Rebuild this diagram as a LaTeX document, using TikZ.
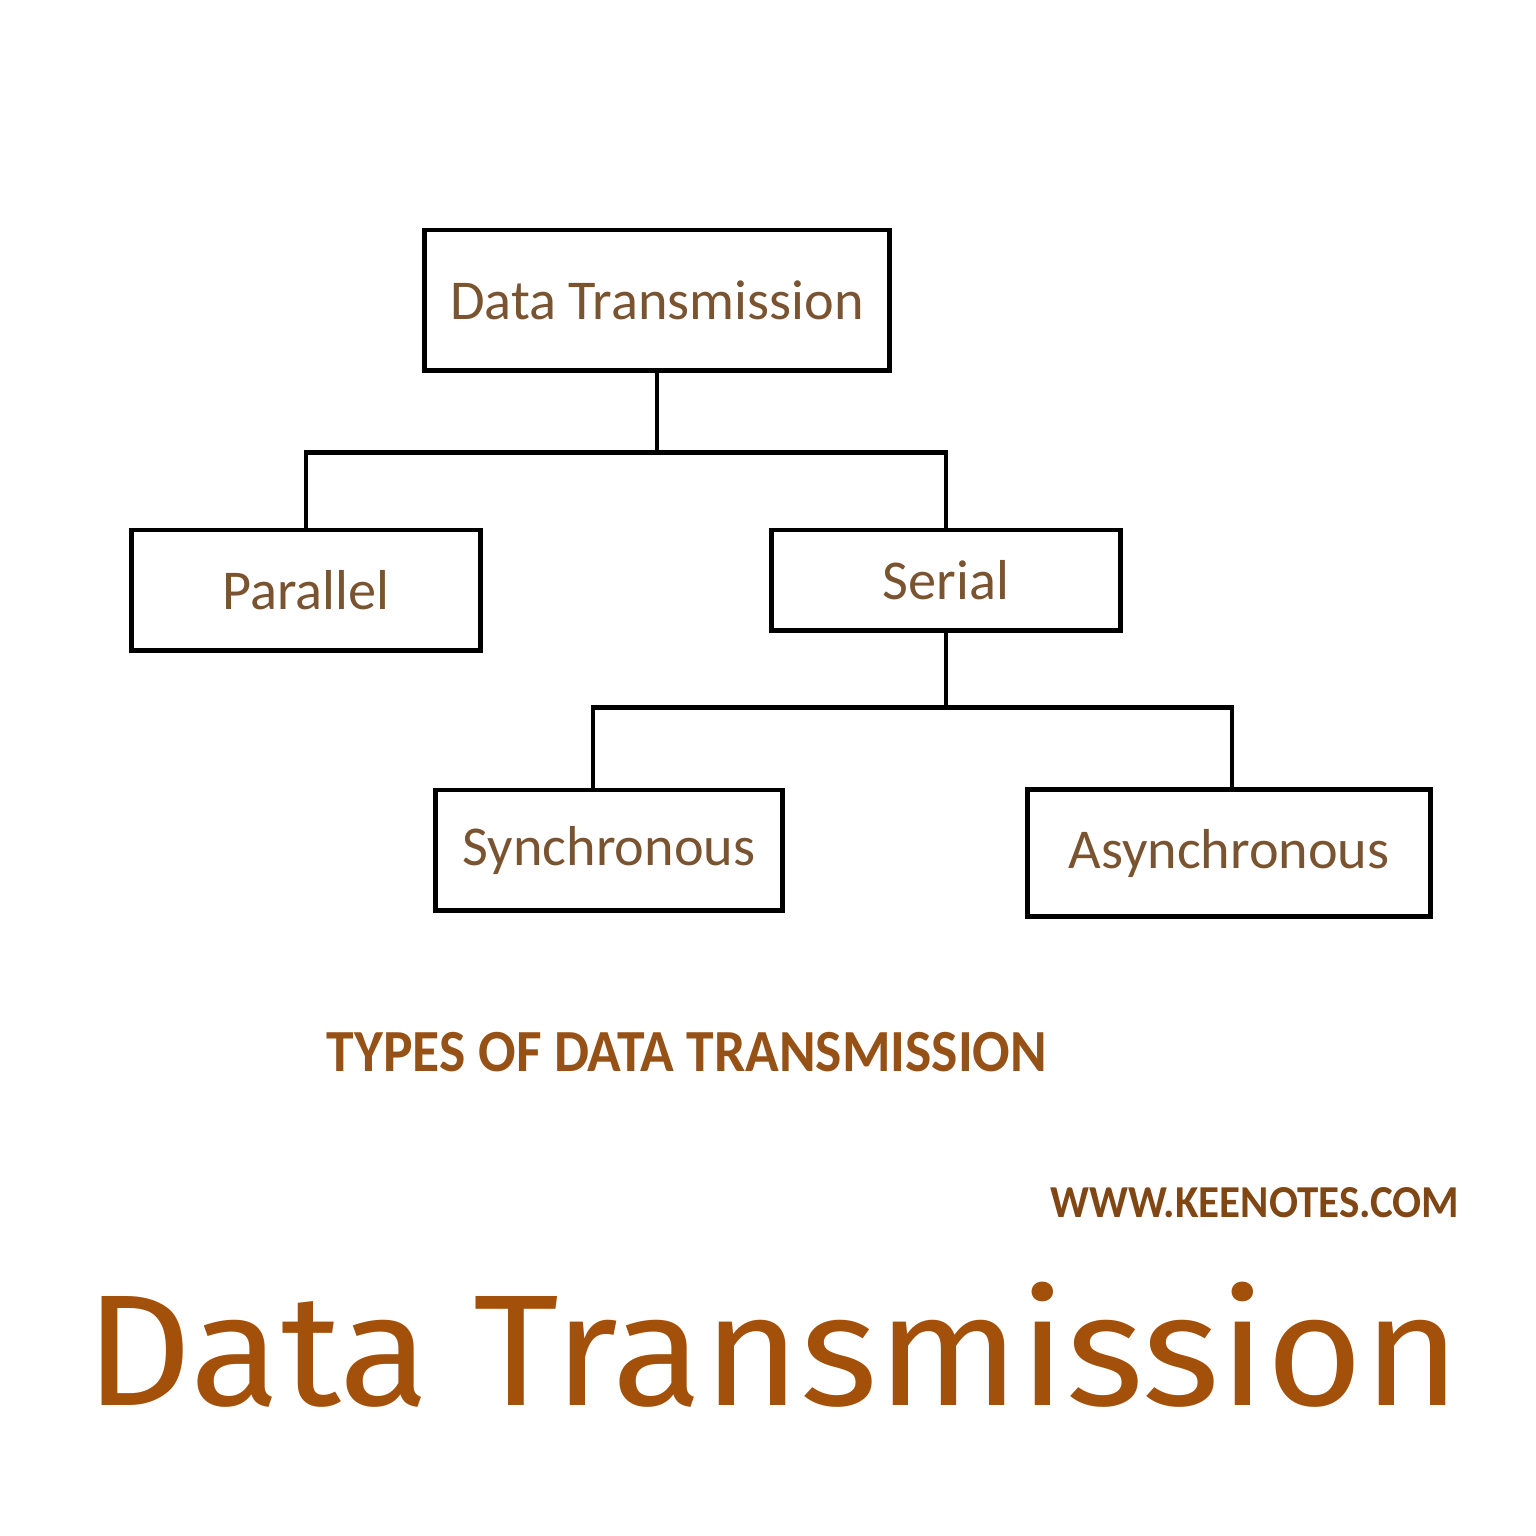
\documentclass[tikz,border=0pt]{standalone}
\usepackage{fontspec}
\setmainfont{Carlito}
\newfontfamily\titlefont{Fira Sans}
\usetikzlibrary{positioning, calc}
\definecolor{boxtextcolor}{RGB}{122, 84, 48}
\definecolor{captioncolor}{RGB}{150, 82, 22}
\definecolor{titlecolor}{RGB}{163, 80, 10}

\begin{document}
\begin{tikzpicture}[
    x=0.01cm, y=-0.01cm,
    box/.style={rectangle, draw=black, line width=1.4pt, inner sep=0pt, align=center,
                text=boxtextcolor, font=\fontsize{16}{18}\selectfont},
    link/.style={draw=black, line width=1.4pt},
]
\useasboundingbox[fill=white] (0,0) rectangle (1536,1536);

% ============ boxes ============
\node[box, minimum width=4.65cm, minimum height=1.4cm] (dt) at (657,300) {Data Transmission};
\node[box, minimum width=3.48cm, minimum height=1.2cm] (parallel) at (306,590) {Parallel};
\node[box, minimum width=3.48cm, minimum height=1.0cm] (serial) at (946,580) {Serial};
\node[box, minimum width=3.47cm, minimum height=1.2cm] (sync) at (609,850) {Synchronous};
\node[box, minimum width=4.02cm, minimum height=1.27cm] (async) at (1229,853) {Asynchronous};

% ============ connectors ============
\draw[link] (dt.south) -- ++(0,80) coordinate (split1);
\draw[link] (split1) -| (parallel.north);
\draw[link] (split1) -| (serial.north);

\draw[link] (serial.south) -- ++(0,75) coordinate (split2);
\draw[link] (split2) -| ([xshift=-0.16cm]sync.north);
\draw[link] (split2) -| ([xshift=0.03cm]async.north);

% ============ texts ============
\node[text=captioncolor, font=\fontsize{17}{19}\selectfont\bfseries, transform shape, xscale=0.93] (caption) at (687,1052) {TYPES OF DATA TRANSMISSION};
\node[text=captioncolor!85!black, font=\fontsize{13}{15}\selectfont\bfseries, transform shape, xscale=0.94] (site) at (1255,1203) {WWW.KEENOTES.COM};
\node[text=titlecolor, font=\titlefont\fontsize{45}{50}\selectfont, transform shape, xscale=1.048] (title) at (773,1345) {Data Transmission};

\end{tikzpicture}
\end{document}
